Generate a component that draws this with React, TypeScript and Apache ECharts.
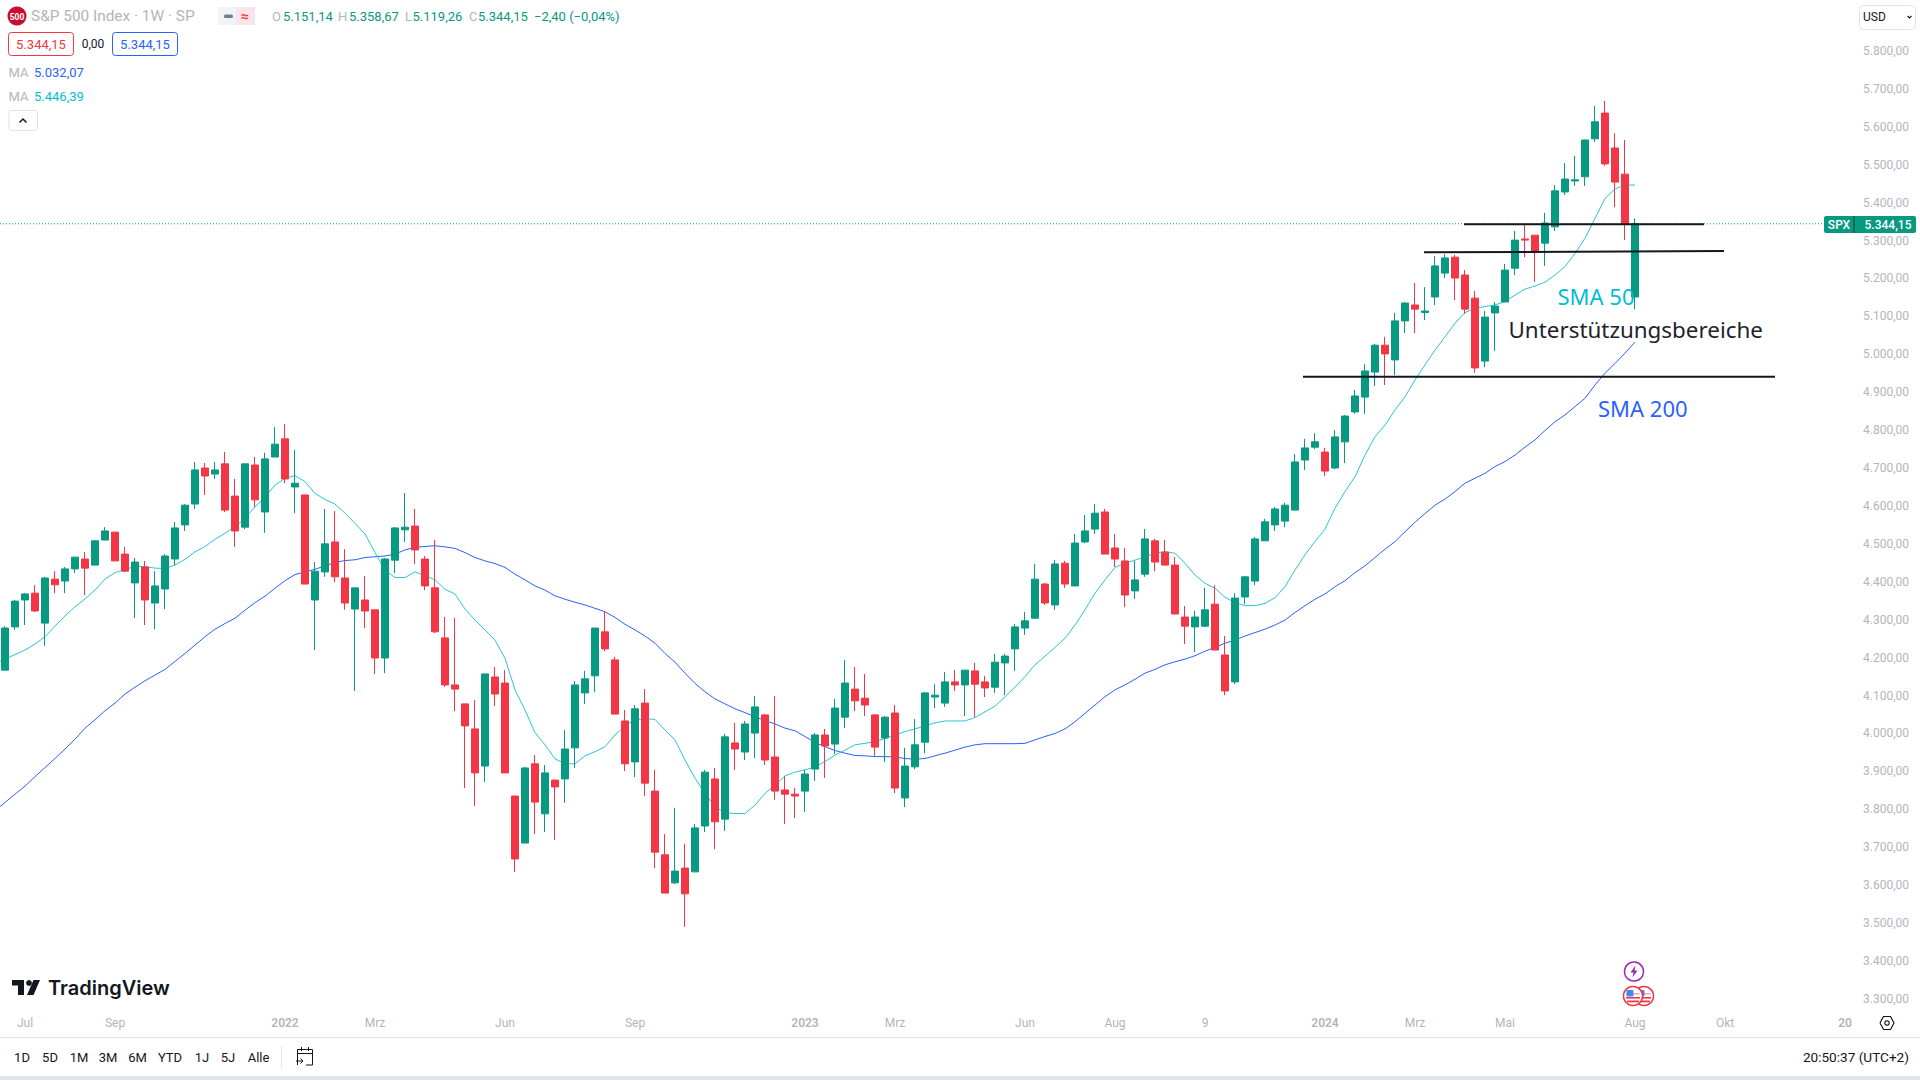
import React, { useEffect, useRef } from "react";
import * as echarts from "echarts";

// [open, close, low, high], one row per week
const weeklyCandles: number[][] = [
[4167,4278,4167,4283],[4281,4349,4273,4352],[4352,4368,4286,4370],[4370,4323,4320,4391],[4291,4410,4231,4413],
[4407,4392,4370,4428],[4402,4434,4370,4439],[4434,4465,4423,4465],[4460,4436,4365,4479],[4444,4508,4444,4510],
[4510,4534,4510,4544],[4531,4455,4455,4531],[4473,4428,4426,4492],[4397,4452,4304,4463],[4439,4352,4286,4455],
[4344,4389,4275,4428],[4381,4468,4328,4473],[4460,4542,4444,4558],[4550,4602,4534,4605],[4605,4695,4592,4716],
[4700,4679,4629,4713],[4684,4695,4671,4716],[4711,4589,4584,4742],[4626,4534,4492,4671],[4544,4711,4539,4711],
[4708,4616,4597,4729],[4584,4724,4529,4740],[4729,4763,4729,4808],[4777,4671,4660,4816],[4650,4660,4581,4748],
[4629,4394,4394,4629],[4352,4428,4220,4452],[4426,4500,4413,4592],[4505,4413,4399,4587],[4410,4344,4326,4486],
[4328,4384,4112,4384],[4352,4323,4278,4415],[4326,4199,4157,4326],[4199,4460,4159,4463],[4457,4542,4423,4544],
[4537,4544,4505,4634],[4547,4484,4447,4592],[4460,4389,4378,4468],[4384,4268,4265,4510],[4252,4128,4123,4307],
[4128,4117,4059,4305],[4078,4020,3856,4078],[4012,3896,3809,4088],[3914,4157,3872,4157],[4149,4104,4072,4175],
[4133,3896,3896,4167],[3835,3669,3635,3835],[3711,3909,3711,3912],[3920,3819,3735,3943],[3788,3896,3740,3917],
[3877,3859,3719,3877],[3880,3959,3817,4009],[3962,4128,3909,4138],[4107,4144,4078,4165],[4152,4278,4109,4278],
[4268,4223,4217,4323],[4194,4051,4051,4202],[4033,3920,3901,4062],[3925,4065,3885,4075],[4080,3869,3835,4117],
[3848,3687,3645,3904],[3680,3579,3579,3735],[3606,3637,3603,3804],[3645,3577,3490,3709],[3635,3751,3635,3761],
[3756,3898,3740,3904],[3880,3767,3695,3909],[3774,3991,3743,3999],[3975,3959,3904,4028],[3951,4025,3930,4033],
[4001,4070,3935,4099],[4049,3930,3917,4051],[3938,3848,3825,4099],[3851,3840,3761,3888],[3840,3835,3777,3856],
[3848,3893,3793,3904],[3906,3996,3875,4001],[3996,3967,3883,4012],[3972,4067,3946,4091],[4043,4133,4014,4194],
[4117,4086,4059,4175],[4093,4075,4046,4157],[4049,3964,3941,4049],[3988,4043,3925,4046],[4054,3856,3843,4075],
[3830,3914,3806,3962],[3912,3970,3906,4038],[3977,4107,3948,4109],[4096,4101,4067,4130],[4080,4136,4070,4162],
[4136,4128,4112,4167],[4128,4167,4046,4167],[4165,4130,4043,4186],[4136,4120,4096,4152],[4122,4188,4107,4210],
[4186,4204,4101,4210],[4223,4281,4165,4289],[4278,4297,4260,4320],[4304,4407,4302,4447],[4394,4344,4339,4397],
[4339,4447,4326,4457],[4449,4394,4384,4455],[4389,4502,4389,4526],[4505,4534,4502,4576],[4539,4581,4526,4605],
[4584,4473,4473,4592],[4489,4460,4439,4526],[4455,4365,4333,4489],[4376,4405,4355,4455],[4420,4513,4413,4539],
[4508,4452,4428,4513],[4478,4444,4444,4510],[4444,4315,4315,4465],[4307,4283,4236,4336],[4281,4307,4215,4323],
[4283,4326,4281,4384],[4341,4220,4220,4391],[4207,4112,4101,4257],[4136,4357,4130,4370],[4360,4413,4341,4415],
[4402,4513,4391,4518],[4508,4558,4508,4566],[4550,4592,4534,4597],[4560,4602,4544,4608],[4589,4716,4589,4737],
[4721,4753,4695,4777],[4755,4769,4750,4792],[4742,4692,4679,4753],[4700,4782,4697,4800],[4769,4837,4713,4840],
[4848,4890,4843,4906],[4887,4956,4843,4974],[4953,5024,4916,5027],[5024,5001,4919,5046],[4985,5088,4945,5109],
[5088,5135,5056,5138],[5130,5119,5056,5188],[5110,5114,5090,5177],[5151,5233,5130,5259],[5214,5254,5201,5264],
[5256,5201,5143,5262],[5209,5119,5106,5222],[5148,4964,4951,5167],[4982,5098,4966,5114],[5109,5127,5009,5138],
[5138,5222,5138,5238],[5227,5301,5209,5325],[5304,5301,5256,5341],[5314,5270,5191,5314],[5293,5346,5233,5373],
[5336,5431,5325,5446],[5428,5462,5420,5504],[5457,5460,5444,5523],[5468,5565,5444,5566],[5568,5613,5560,5655],
[5636,5502,5497,5668],[5544,5454,5388,5583],[5475,5344,5301,5565],[5151.14,5344.15,5119.26,5358.67],
];

const sma50 = [
4196,4208,4220,4236,4255,4283,4310,4334,4355,4378,4407,4424,4433,4440,4440,4436,4435,4444,4459,4479,
4493,4512,4528,4545,4567,4598,4623,4655,4673,4680,4664,4633,4617,4605,4581,4554,4526,4477,4431,4411,
4411,4426,4416,4405,4380,4368,4328,4299,4273,4246,4198,4115,4062,4002,3970,3933,3920,3920,3941,3952,
3965,3996,4020,4036,4039,4037,4009,3983,3930,3882,3842,3807,3791,3789,3789,3811,3842,3864,3888,3898,
3904,3912,3926,3943,3956,3970,3974,3978,3987,3996,4005,4012,4020,4028,4033,4033,4033,4042,4057,4072,
4097,4122,4150,4181,4204,4227,4251,4286,4326,4370,4405,4438,4449,4457,4466,4475,4480,4475,4449,4418,
4396,4383,4359,4345,4337,4337,4343,4358,4387,4431,4471,4506,4539,4594,4638,4677,4734,4783,4813,4853,
4888,4932,4972,5011,5046,5082,5110,5121,5126,5130,5139,5156,5172,5180,5190,5209,5231,5266,5306,5358,
5411,5436,5446,5446.39,
];

const sma200 = [
3818,3840,3861,3886,3910,3934,3959,3985,4014,4036,4060,4080,4104,4122,4139,4154,4169,4190,4211,4233,
4255,4275,4290,4304,4325,4345,4362,4383,4403,4419,4426,4433,4442,4451,4456,4458,4464,4466,4468,4473,
4484,4491,4493,4495,4492,4488,4477,4464,4455,4448,4438,4420,4405,4389,4378,4363,4354,4346,4339,4330,
4321,4306,4288,4273,4257,4238,4211,4188,4159,4132,4110,4091,4078,4065,4055,4044,4034,4025,4014,4007,
3992,3976,3965,3955,3948,3942,3941,3939,3939,3938,3934,3932,3934,3941,3948,3956,3964,3970,3973,3973,
3973,3973,3974,3983,3992,4000,4012,4031,4053,4075,4097,4115,4128,4143,4159,4169,4181,4189,4196,4205,
4217,4227,4238,4246,4257,4266,4275,4286,4299,4319,4337,4354,4368,4387,4403,4424,4442,4464,4486,4506,
4532,4557,4580,4602,4618,4638,4660,4673,4686,4704,4717,4734,4755,4774,4799,4822,4840,4862,4884,4919,
4950,4976,5003,5032.07,
];
// value of each average where its line enters the picture, half a week before the first candle
const sma50AtLeftEdge = 4190;
const sma200AtLeftEdge = 3807;

// week index (may be fractional, from the x-axis scale) and price for each hand-drawn level
const supportLevels = [
  [[145.9, 5342.7], [169.9, 5342.7]],
  [[141.9, 5268.8], [171.9, 5272]],
  [[129.8, 4941], [177, 4941]],
];
const lastPrice = 5344.15;
const lastPriceLine = [[-0.5, lastPrice], [181.9, lastPrice]];

const totalSlots = 185;
const timeLabels: [number, string][] = [
  [2, "Jul"], [11, "Sep"], [28, "2022"], [37, "Mrz"], [50, "Jun"], [63, "Sep"], [80, "2023"], [89, "Mrz"],
  [102, "Jun"], [111, "Aug"], [120, "9"], [132, "2024"], [141, "Mrz"], [150, "Mai"], [163, "Aug"], [172, "Okt"], [184, "20"],
];
const boldTimeLabels = ["2022", "2023", "2024", "20"];
const rangeButtons: [string, number][] = [
  ["1D", 22], ["5D", 50], ["1M", 79], ["3M", 108], ["6M", 137.5], ["YTD", 170], ["1J", 202], ["5J", 228], ["Alle", 258.5],
];

const UP = "#089981";
const DOWN = "#F23645";
const CYAN = "#00BCD4";
const BLUE = "#2962FF";
const INK = "#131722";
const GREY = "#B2B5BE";
const LINE = "#E0E3EB";
const FONT = "Roboto, sans-serif";

function fmt(v: number) {
  const [a, b] = v.toFixed(2).split(".");
  return a.replace(/\B(?=(\d{3})+$)/g, ".") + "," + b;
}

function txt(text: string, x: number, y: number, fill: string, size = 13, align = "left", weight: any = 400, family = FONT) {
  return {
    type: "text", x, y, silent: true, z: 60,
    style: { text, fill, align, verticalAlign: "middle", font: `${weight} ${size}px ${family}` },
  };
}
function box(x: number, y: number, width: number, height: number, r: number, fill: string, stroke?: string, lineWidth = 1, z = 49) {
  return {
    type: "rect", silent: true, z,
    shape: { x, y, width, height, r },
    style: { fill, stroke: stroke ?? "none", lineWidth },
  };
}
function poly(points: number[][], stroke: string, lineWidth = 1) {
  return { type: "polyline", silent: true, z: 50, shape: { points }, style: { stroke, fill: "none", lineWidth } };
}
function solid(points: number[][], fill: string) {
  return { type: "polygon", silent: true, z: 50, shape: { points }, style: { fill } };
}
function disc(cx: number, cy: number, r: number, fill: string, stroke = "none", lineWidth = 1, z = 50) {
  return { type: "circle", silent: true, z, shape: { cx, cy, r }, style: { fill, stroke, lineWidth } };
}

function buildGraphics() {
  const flag = (cx: number, z: number) => [
    disc(cx, 996, 9.5, "#fff", DOWN, 1.5, z),
    box(cx - 6.5, 993, 13, 1.6, 0, "#F7A8B0", "none", 1, z + 1),
    box(cx - 7, 997, 14, 1.6, 0, DOWN, "none", 1, z + 1),
    box(cx - 6, 1000.5, 12, 1.8, 0, DOWN, "none", 1, z + 1),
    box(cx - 6.5, 990, 7, 6.5, 1, "#3D8BF2", "none", 1, z + 1),
  ];
  return [
    // header
    disc(17, 16, 9.5, "#C8102E"),
    txt("500", 17, 16.5, "#fff", 8.5, "center", 700),
    txt("S&P 500 Index · 1W · SP", 31, 16, GREY, 15.4),
    box(218, 7, 19, 18, 0, "#F0F3FA"),
    box(236, 7, 19, 18, 0, "#FCE4EA"),
    box(224, 14.5, 9, 3.5, 1.5, "#787B86"),
    txt("≈", 245, 15.5, DOWN, 14, "center", 700),
    txt("O", 272, 16, GREY), txt("5.151,14", 283, 16, UP),
    txt("H", 338, 16, GREY), txt("5.358,67", 349, 16, UP),
    txt("L", 405, 16, GREY), txt("5.119,26", 412.5, 16, UP),
    txt("C", 469, 16, GREY), txt("5.344,15", 478, 16, UP),
    txt("−2,40 (−0,04%)", 534, 16, UP),
    box(8.5, 32.5, 65, 23, 3, "#fff", DOWN),
    txt("5.344,15", 41, 44, DOWN, 13, "center"),
    txt("0,00", 93, 44, INK, 12, "center"),
    box(112.5, 32.5, 65, 23, 3, "#fff", BLUE),
    txt("5.344,15", 145, 44, BLUE, 13, "center"),
    txt("MA", 8.5, 72.5, GREY), txt("5.032,07", 34, 72.5, BLUE),
    txt("MA", 8.5, 96.5, GREY), txt("5.446,39", 34, 96.5, CYAN),
    box(9, 110.5, 28.5, 20, 2, "#fff", LINE),
    poly([[19.5, 122.5], [23, 119], [26.5, 122.5]], INK, 1.5),
    // currency selector
    box(1859.5, 5.5, 56, 24, 4, "#fff", LINE),
    txt("USD", 1863, 17, INK, 12),
    poly([[1907.5, 16], [1909.5, 18], [1911.5, 16]], INK, 1.2),
    // price tag
    box(1824, 216, 92, 17, 2, UP),
    { type: "line", silent: true, z: 50, shape: { x1: 1854, y1: 216, x2: 1854, y2: 233 }, style: { stroke: "#0B3B34", lineWidth: 1 } },
    txt("SPX", 1839, 224.5, "#fff", 12, "center", 500),
    txt(fmt(lastPrice), 1888, 224.5, "#fff", 12, "center", 500),
    // drawings' captions
    txt("SMA 50", 1557.5, 296, CYAN, 22, "left", 400, "'Noto Sans'"),
    txt("Unterstützungsbereiche", 1508.5, 329.5, "#1E222D", 22.4, "left", 400, "'Noto Sans'"),
    txt("SMA 200", 1598, 408, BLUE, 22, "left", 400, "'Noto Sans'"),
    // logo
    solid([[12, 980], [24, 980], [24, 995], [18, 995], [18, 985.5], [12, 985.5]], INK),
    disc(29, 983, 2.9, INK),
    solid([[33.5, 980], [40, 980], [33.5, 995], [27, 995]], INK),
    txt("TradingView", 48, 987.5, INK, 20, "left", 600, "Inter"),
    // event markers
    disc(1634, 971.5, 9.5, "#fff", "#9C27B0", 1.5),
    solid([[1635.5, 965.5], [1630.5, 972.5], [1633.5, 972.5], [1632.5, 977.5], [1637.5, 970.5], [1634.5, 970.5]], "#9C27B0"),
    ...flag(1644, 50),
    ...flag(1633, 52),
    // axis furniture
    { type: "line", silent: true, z: 49, shape: { x1: 0, y1: 1037.5, x2: 1920, y2: 1037.5 }, style: { stroke: LINE, lineWidth: 1 } },
    box(0, 1076, 1920, 4, 0, LINE),
    { type: "line", silent: true, z: 49, shape: { x1: 281.5, y1: 1046, x2: 281.5, y2: 1068 }, style: { stroke: LINE, lineWidth: 1 } },
    solid([[1880, 1023], [1883.5, 1016.5], [1890.5, 1016.5], [1894, 1023], [1890.5, 1029.5], [1883.5, 1029.5]], "#fff"),
    poly([[1880, 1023], [1883.5, 1016.5], [1890.5, 1016.5], [1894, 1023], [1890.5, 1029.5], [1883.5, 1029.5], [1880, 1023]], INK, 1.2),
    disc(1887, 1023, 2.2, "#fff", INK, 1.2),
    ...rangeButtons.map(([t, x]) => txt(t, x, 1057.5, INK, 13, "center")),
    // go-to-date icon
    poly([[297.5, 1065], [297.5, 1049.5], [312.5, 1049.5], [312.5, 1065], [306, 1065]], INK, 1),
    poly([[297.5, 1053.5], [312.5, 1053.5]], INK, 1),
    poly([[301.5, 1047], [301.5, 1051]], INK, 1),
    poly([[308.5, 1047], [308.5, 1051]], INK, 1),
    poly([[296, 1061], [303, 1061]], INK, 1),
    poly([[300.5, 1058.5], [303, 1061], [300.5, 1063.5]], INK, 1),
    txt("20:50:37 (UTC+2)", 1909, 1057, INK, 13.6, "right"),
  ];
}

function App() {
  const ref = useRef<HTMLDivElement>(null);
  useEffect(() => {
    document.body.style.margin = "0";
    document.body.style.background = "#fff";
    const chart = echarts.init(ref.current!, undefined, { renderer: "svg" });
    const labelMap = new Map(timeLabels);
    const categories = Array.from({ length: totalSlots }, (_, i) => labelMap.get(i) ?? "");
    const withEdge = (values: number[], edge: number) => [[-0.5, edge], ...values.map((v, i) => [i, v])];
    const levelSeries = supportLevels.map((d) => ({
      type: "line", xAxisIndex: 1, data: d, showSymbol: false, silent: true, z: 6,
      lineStyle: { color: INK, width: 2 },
    }));
    chart.setOption({
      animation: false,
      backgroundColor: "#fff",
      textStyle: { fontFamily: FONT },
      grid: { left: 0, right: 70, top: 50.9, bottom: 81.1 },
      xAxis: [
        {
          type: "category", data: categories, boundaryGap: true,
          axisLine: { show: false }, axisTick: { show: false }, splitLine: { show: false },
          axisLabel: {
            interval: 0, margin: 18, fontSize: 12, color: GREY, fontFamily: FONT, hideOverlap: false,
            formatter: (v: string) => (boldTimeLabels.includes(v) ? `{b|${v}}` : v),
            rich: { b: { fontSize: 12, fontWeight: 600, color: GREY, fontFamily: FONT } },
          },
        },
        { type: "value", min: -0.5, max: totalSlots - 0.5, show: false, splitLine: { show: false } },
      ],
      yAxis: {
        type: "value", position: "right", min: 3300, max: 5800, interval: 100, scale: true,
        axisLine: { show: false }, axisTick: { show: false }, splitLine: { show: false },
        axisLabel: { margin: 13, fontSize: 12, color: GREY, fontFamily: FONT, formatter: (v: number) => fmt(v) },
      },
      series: [
        {
          type: "line", xAxisIndex: 1, data: lastPriceLine, showSymbol: false, silent: true, z: 1,
          lineStyle: { color: UP, width: 1, type: [1, 2] },
        },
        { type: "line", name: "SMA 200", xAxisIndex: 1, data: withEdge(sma200, sma200AtLeftEdge), showSymbol: false, silent: true, z: 2, lineStyle: { color: BLUE, width: 1 } },
        { type: "line", name: "SMA 50", xAxisIndex: 1, data: withEdge(sma50, sma50AtLeftEdge), showSymbol: false, silent: true, z: 2, lineStyle: { color: "#26C6DA", width: 1 } },
        {
          type: "candlestick", data: weeklyCandles, barWidth: 7, z: 3, silent: true,
          itemStyle: { color: UP, color0: DOWN, borderColor: UP, borderColor0: DOWN, borderWidth: 1 },
        },
        ...levelSeries,
      ],
      graphic: { elements: buildGraphics() },
    });
    return () => chart.dispose();
  }, []);
  return <div ref={ref} style={{ position: "absolute", left: 0, top: 0, width: 1920, height: 1080 }} />;
}

export default App;
